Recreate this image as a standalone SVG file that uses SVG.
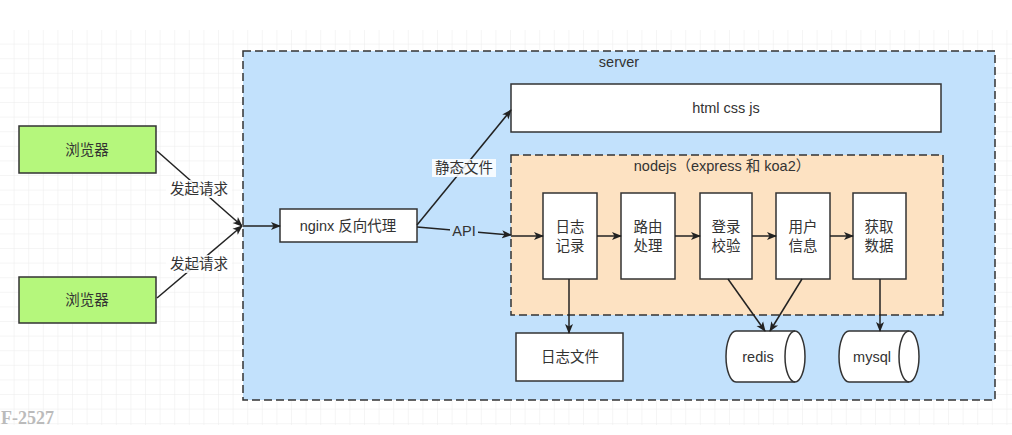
<svg xmlns="http://www.w3.org/2000/svg" width="1012" height="435" viewBox="0 0 1012 435">
<defs>
<pattern id="grid" x="0" y="30" width="14.6" height="14.6" patternUnits="userSpaceOnUse">
<path d="M14.6 0V14.6M0 14.6H14.6" fill="none" stroke="#ececec" stroke-width="1"/>
</pattern>
<marker id="arr" viewBox="0 0 10 10" refX="9" refY="5" markerWidth="10" markerHeight="10" markerUnits="userSpaceOnUse" orient="auto">
<path d="M0,1 L10,5 L0,9 L2.5,5 Z" fill="#222"/>
</marker>
<style>
.t{font-family:"Liberation Sans","Noto Sans CJK SC",sans-serif;font-size:14.5px;fill:#333;text-anchor:middle;dominant-baseline:central}
.box{fill:#fff;stroke:#333;stroke-width:1.5}
.green{fill:#b5f77c;stroke:#333;stroke-width:1.5}
.dash{stroke:#333;stroke-width:1.5;stroke-dasharray:8 4}
.c{fill:none;stroke:#222;stroke-width:1.5;marker-end:url(#arr)}
.lbl{fill:#fff;opacity:0.85}
</style>
</defs>
<rect width="1012" height="435" fill="#fff"/>
<rect x="0" y="30" width="1012" height="395" fill="url(#grid)"/>
<text x="1" y="424" style="font-family:'Liberation Serif',serif;font-size:18px;fill:#bbb;font-weight:bold">F-2527</text>

<g id="server">
<rect x="243" y="51" width="752" height="349" fill="#c2e1fc" class="dash"/>
<text class="t" x="619" y="62">server</text>
</g>
<g id="nodejs">
<rect x="511" y="155" width="432" height="160" fill="#fde2c2" class="dash"/>
<text class="t" x="722" y="166">nodejs（express 和 koa2）</text>
</g>

<g id="browser1"><rect class="green" x="19" y="126" width="137" height="47"/><text class="t" x="87" y="150">浏览器</text></g>
<g id="browser2"><rect class="green" x="19" y="277" width="137" height="46"/><text class="t" x="87" y="300">浏览器</text></g>
<g id="nginx"><rect class="box" x="280" y="209" width="137" height="33"/><text class="t" x="348" y="226">nginx 反向代理</text></g>
<g id="static"><rect class="box" x="511" y="84" width="430" height="48"/><text class="t" x="726" y="108">html css js</text></g>
<g id="log"><rect class="box" x="543" y="193" width="54" height="86"/><text class="t" x="570" y="227">日志</text><text class="t" x="570" y="246">记录</text></g>
<g id="route"><rect class="box" x="621" y="193" width="54" height="86"/><text class="t" x="648" y="227">路由</text><text class="t" x="648" y="246">处理</text></g>
<g id="auth"><rect class="box" x="700" y="193" width="52" height="86"/><text class="t" x="726" y="227">登录</text><text class="t" x="726" y="246">校验</text></g>
<g id="user"><rect class="box" x="776" y="193" width="54" height="86"/><text class="t" x="803" y="227">用户</text><text class="t" x="803" y="246">信息</text></g>
<g id="data"><rect class="box" x="853" y="193" width="53" height="86"/><text class="t" x="879" y="227">获取</text><text class="t" x="879" y="246">数据</text></g>
<g id="logfile"><rect class="box" x="516" y="333" width="107" height="48"/><text class="t" x="570" y="357">日志文件</text></g>
<g id="redis">
<path class="box" d="M736,331 L795,331 A10,25.5 0 0 1 795,382 L736,382 A10,25.5 0 0 1 736,331 Z"/>
<path d="M795,331 A10,25.5 0 0 0 795,382" fill="none" stroke="#333" stroke-width="1.5"/>
<text class="t" x="758" y="357">redis</text>
</g>
<g id="mysql">
<path class="box" d="M849,331 L909,331 A10,25.5 0 0 1 909,382 L849,382 A10,25.5 0 0 1 849,331 Z"/>
<path d="M909,331 A10,25.5 0 0 0 909,382" fill="none" stroke="#333" stroke-width="1.5"/>
<text class="t" x="872" y="357">mysql</text>
</g>

<g id="connectors">
<path class="c" d="M157,151 L242,226"/>
<path class="c" d="M157,298 L242,226"/>
<path class="c" d="M243,226 L280,226"/>
<path class="c" d="M417,225 L511,110"/>
<path class="c" d="M417,227 L511,235"/>
<path class="c" d="M511,236 L543,236"/>
<path class="c" d="M597,236 L621,236"/>
<path class="c" d="M675,236 L700,236"/>
<path class="c" d="M752,236 L776,236"/>
<path class="c" d="M830,236 L853,236"/>
<path class="c" d="M569,279 L569,333"/>
<path class="c" d="M728,279 L765,331"/>
<path class="c" d="M802,279 L770,331"/>
<path class="c" d="M880,279 L880,331"/>
<rect class="lbl" x="166" y="180" width="66" height="18"/>
<text class="t" x="199" y="189">发起请求</text>
<rect class="lbl" x="166" y="255" width="66" height="18"/>
<text class="t" x="199" y="264">发起请求</text>
<rect class="lbl" x="432" y="159" width="64" height="18"/>
<text class="t" x="464" y="168">静态文件</text>
<rect fill="#c2e1fc" x="450" y="222" width="28" height="18"/>
<text class="t" x="464" y="231">API</text>
</g>
</svg>
